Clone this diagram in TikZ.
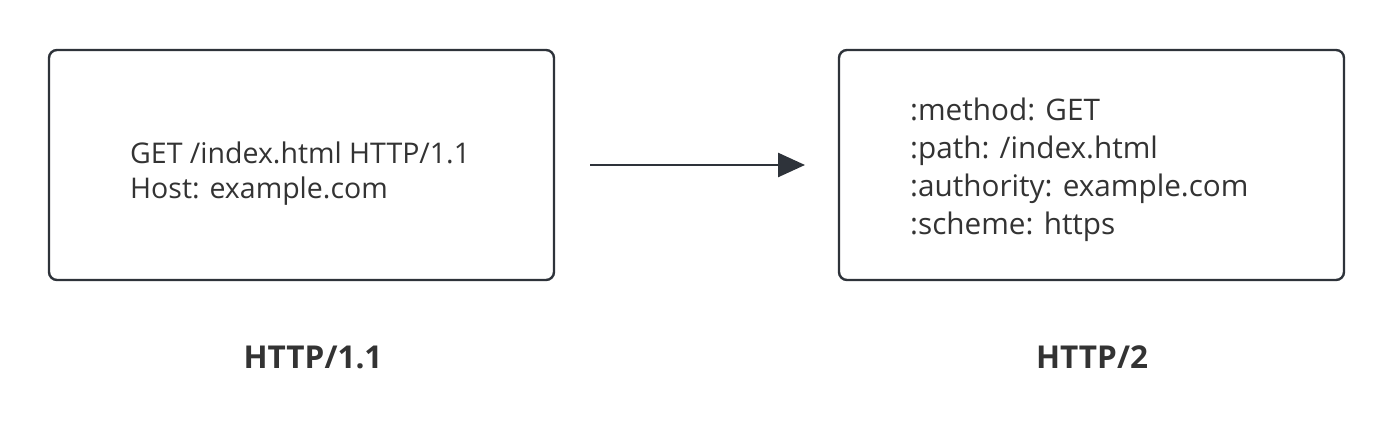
\documentclass[tikz,border=0pt]{standalone}
\usepackage{fontspec}
\setmainfont{Open Sans}
\usetikzlibrary{arrows.meta}
\definecolor{ink}{HTML}{333333}
\definecolor{edge}{HTML}{2E333A}
\tikzset{
    frame/.style={draw=edge, line width=2.4pt, rounded corners=8pt},
    lines/.style={text=ink, inner sep=0pt, align=left, anchor=west},
    caption/.style={text=ink, inner sep=0pt, font=\fontsize{31.5}{36}\selectfont\bfseries}
}

\begin{document}
\begin{tikzpicture}[x=1pt, y=-1pt, >={Triangle[length=27pt, width=24pt]}]
            \useasboundingbox (0, 0) rectangle (1394, 446);
            \draw[frame] (49, 50) rectangle (554, 280);
            \draw[frame] (839, 50) rectangle (1344, 280);
            \node[lines, font=\fontsize{28.5}{35}\selectfont] (old) at (130, 174)
                {GET /index.html HTTP/1.1\\Host: example.com};
            \node[lines, font=\fontsize{29.7}{38}\selectfont] (new) at (910, 170)
                {:method: GET\\:path: /index.html\\:authority: example.com\\:scheme: https};
            \coordinate (from) at (590, 165);
            \coordinate (to) at (805, 165);
            \draw[->, draw=edge, line width=2.6pt] (from) -- (to);
            \node[caption] (v1) at (313, 357) {HTTP/1.1};
            \node[caption] (v2) at (1092, 357) {HTTP/2};
        \end{tikzpicture}
\end{document}
